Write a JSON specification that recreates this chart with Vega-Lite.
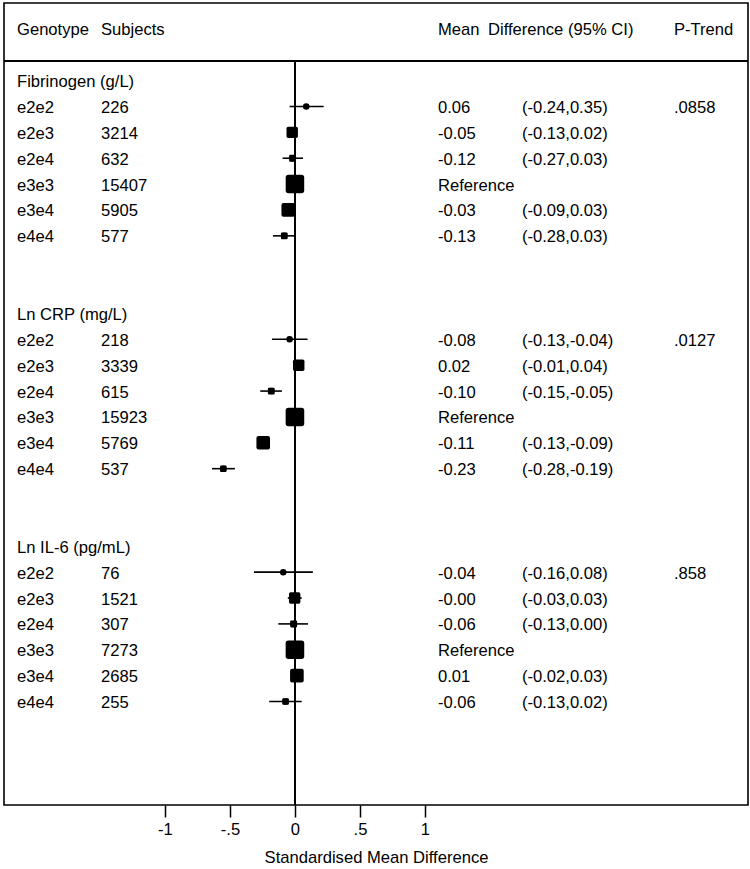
{
  "$schema": "https://vega.github.io/schema/vega-lite/v6.json",
  "width": 744,
  "height": 802,
  "padding": {"left": 3, "top": 3, "right": 3, "bottom": 2},
  "background": "white",
  "config": {
    "view": {"stroke": "black", "strokeWidth": 1.6},
    "text": {"font": "Liberation Sans", "fontSize": 16.6, "color": "black", "align": "left", "baseline": "middle"},
    "axis": {"grid": false}
  },
  "data": {
    "values": [
      {"row": -2, "genotype": "Genotype", "subjects": "Subjects", "mean": "Mean", "diffhead": "Difference (95% CI)", "ptrend": "P-Trend"},
      {"row": 0, "genotype": "Fibrinogen (g/L)"},
      {"row": 1, "genotype": "e2e2", "subjects": "226", "mean": "0.06", "ci": "(-0.24,0.35)", "ptrend": ".0858", "est": 0.087, "lo": -0.041, "hi": 0.221, "share": 0.87},
      {"row": 2, "genotype": "e2e3", "subjects": "3214", "mean": "-0.05", "ci": "(-0.13,0.02)", "est": -0.021, "lo": -0.06, "hi": 0.02, "share": 12.38},
      {"row": 3, "genotype": "e2e4", "subjects": "632", "mean": "-0.12", "ci": "(-0.27,0.03)", "est": -0.018, "lo": -0.095, "hi": 0.062, "share": 2.43},
      {"row": 4, "genotype": "e3e3", "subjects": "15407", "mean": "Reference", "est": 0, "share": 59.35},
      {"row": 5, "genotype": "e3e4", "subjects": "5905", "mean": "-0.03", "ci": "(-0.09,0.03)", "est": -0.051, "lo": -0.09, "hi": -0.01, "share": 22.75},
      {"row": 6, "genotype": "e4e4", "subjects": "577", "mean": "-0.13", "ci": "(-0.28,0.03)", "est": -0.082, "lo": -0.169, "hi": 0.003, "share": 2.22},
      {"row": 9, "genotype": "Ln CRP (mg/L)"},
      {"row": 10, "genotype": "e2e2", "subjects": "218", "mean": "-0.08", "ci": "(-0.13,-0.04)", "ptrend": ".0127", "est": -0.041, "lo": -0.177, "hi": 0.097, "share": 0.83},
      {"row": 11, "genotype": "e2e3", "subjects": "3339", "mean": "0.02", "ci": "(-0.01,0.04)", "est": 0.029, "lo": 0.0, "hi": 0.055, "share": 12.65},
      {"row": 12, "genotype": "e2e4", "subjects": "615", "mean": "-0.10", "ci": "(-0.15,-0.05)", "est": -0.182, "lo": -0.267, "hi": -0.1, "share": 2.33},
      {"row": 13, "genotype": "e3e3", "subjects": "15923", "mean": "Reference", "est": 0, "share": 60.31},
      {"row": 14, "genotype": "e3e4", "subjects": "5769", "mean": "-0.11", "ci": "(-0.13,-0.09)", "est": -0.244, "lo": -0.27, "hi": -0.22, "share": 21.85},
      {"row": 15, "genotype": "e4e4", "subjects": "537", "mean": "-0.23", "ci": "(-0.28,-0.19)", "est": -0.551, "lo": -0.638, "hi": -0.462, "share": 2.03},
      {"row": 18, "genotype": "Ln IL-6 (pg/mL)"},
      {"row": 19, "genotype": "e2e2", "subjects": "76", "mean": "-0.04", "ci": "(-0.16,0.08)", "ptrend": ".858", "est": -0.09, "lo": -0.315, "hi": 0.138, "share": 0.63},
      {"row": 20, "genotype": "e2e3", "subjects": "1521", "mean": "-0.00", "ci": "(-0.03,0.03)", "est": -0.002, "lo": -0.055, "hi": 0.052, "share": 12.55},
      {"row": 21, "genotype": "e2e4", "subjects": "307", "mean": "-0.06", "ci": "(-0.13,0.00)", "est": -0.01, "lo": -0.128, "hi": 0.1, "share": 2.53},
      {"row": 22, "genotype": "e3e3", "subjects": "7273", "mean": "Reference", "est": 0, "share": 60.02},
      {"row": 23, "genotype": "e3e4", "subjects": "2685", "mean": "0.01", "ci": "(-0.02,0.03)", "est": 0.015, "lo": -0.02, "hi": 0.05, "share": 22.16},
      {"row": 24, "genotype": "e4e4", "subjects": "255", "mean": "-0.06", "ci": "(-0.13,0.02)", "est": -0.072, "lo": -0.198, "hi": 0.052, "share": 2.10}
    ]
  },
  "encoding": {
    "y": {"field": "row", "type": "quantitative", "scale": {"domain": [-3, 28], "reverse": true, "nice": false, "zero": false}, "axis": null}
  },
  "layer": [
    {
      "mark": {"type": "rule", "color": "black", "strokeWidth": 1.6},
      "encoding": {
        "y": {"datum": -0.75, "type": "quantitative"},
        "x": {"datum": -2.238, "type": "quantitative", "scale": {"domain": [-2.238, 3.485], "nice": false, "zero": false},
          "axis": {
            "values": [-1, -0.5, 0, 0.5, 1],
            "labelExpr": "replace(replace(format(datum.value, '~g'), '\u2212', '-'), '0.', '.')",
            "domain": false,
            "grid": false,
            "ticks": true,
            "tickColor": "black",
            "tickWidth": 1.5,
            "tickSize": 12,
            "labelFont": "Liberation Sans",
            "labelFontSize": 16.6,
            "labelColor": "black",
            "labelPadding": 4,
            "labelFlush": false,
            "title": "Standardised Mean Difference",
            "titleFont": "Liberation Sans",
            "titleFontSize": 16.6,
            "titleFontWeight": "normal",
            "titleColor": "black",
            "titlePadding": 12
          }},
        "x2": {"datum": 3.485}
      }
    },
    {
      "mark": {"type": "rule", "color": "black", "strokeWidth": 1.6},
      "encoding": {
        "x": {"datum": 0, "type": "quantitative"},
        "y": {"datum": -0.75, "type": "quantitative"},
        "y2": {"datum": 28}
      }
    },
    {
      "transform": [{"filter": "datum.lo != null"}],
      "mark": {"type": "rule", "color": "black", "strokeWidth": 1.6},
      "encoding": {
        "x": {"field": "lo", "type": "quantitative"},
        "x2": {"field": "hi"}
      }
    },
    {
      "transform": [{"filter": "datum.est != null"}],
      "mark": {"type": "point", "shape": "M -1 -0.7 Q -1 -1 -0.7 -1 L 0.7 -1 Q 1 -1 1 -0.7 L 1 0.7 Q 1 1 0.7 1 L -0.7 1 Q -1 1 -1 0.7 Z", "filled": true, "color": "black", "opacity": 1},
      "encoding": {
        "x": {"field": "est", "type": "quantitative"},
        "size": {"field": "share", "type": "quantitative", "scale": {"type": "pow", "exponent": 0.62, "domain": [0, 60], "range": [0, 345]}, "legend": null}
      }
    },
    {
      "transform": [{"filter": "datum.est != null"}],
      "mark": {"type": "circle", "color": "black", "opacity": 1, "size": 42},
      "encoding": {
        "x": {"field": "est", "type": "quantitative"}
      }
    },
    {
      "transform": [{"filter": "datum.genotype != null"}],
      "mark": {"type": "text", "dy": 1.5},
      "encoding": {
        "x": {"datum": -2.138, "type": "quantitative"},
        "text": {"field": "genotype", "type": "nominal"}
      }
    },
    {
      "transform": [{"filter": "datum.subjects != null"}],
      "mark": {"type": "text", "dy": 1.5},
      "encoding": {
        "x": {"datum": -1.492, "type": "quantitative"},
        "text": {"field": "subjects", "type": "nominal"}
      }
    },
    {
      "transform": [{"filter": "datum.mean != null"}],
      "mark": {"type": "text", "dy": 1.5},
      "encoding": {
        "x": {"datum": 1.1, "type": "quantitative"},
        "text": {"field": "mean", "type": "nominal"}
      }
    },
    {
      "transform": [{"filter": "datum.diffhead != null"}],
      "mark": {"type": "text", "dy": 1.5},
      "encoding": {
        "x": {"datum": 1.485, "type": "quantitative"},
        "text": {"field": "diffhead", "type": "nominal"}
      }
    },
    {
      "transform": [{"filter": "datum.ci != null"}],
      "mark": {"type": "text", "dy": 1.5},
      "encoding": {
        "x": {"datum": 1.746, "type": "quantitative"},
        "text": {"field": "ci", "type": "nominal"}
      }
    },
    {
      "transform": [{"filter": "datum.ptrend != null"}],
      "mark": {"type": "text", "dy": 1.5},
      "encoding": {
        "x": {"datum": 2.915, "type": "quantitative"},
        "text": {"field": "ptrend", "type": "nominal"}
      }
    }
  ]
}
